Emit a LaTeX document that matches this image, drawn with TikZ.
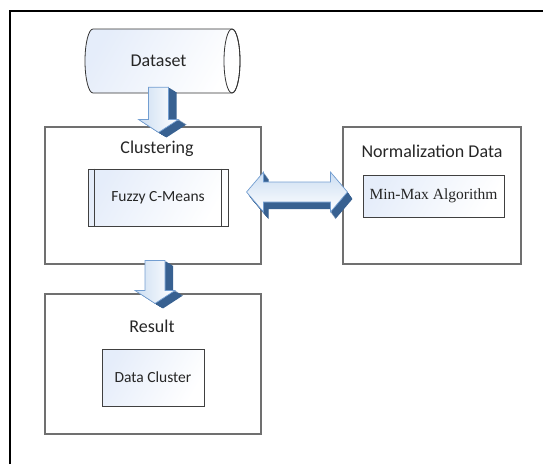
\documentclass[tikz,border=0pt]{standalone}
\usepackage{fontspec}
\setmainfont{Carlito}
\newfontfamily\algofont{Liberation Serif}
\usepackage{xcolor}
\usetikzlibrary{calc}
\usetikzlibrary{positioning}
\definecolor{framegray}{rgb}{0.44, 0.44, 0.44}
\definecolor{boxtint}{rgb}{0.90, 0.93, 0.98}
\definecolor{arrowedge}{rgb}{0.45, 0.62, 0.82}
\definecolor{arrowface}{rgb}{0.80, 0.87, 0.95}
\definecolor{arrowdark}{rgb}{0.22, 0.38, 0.57}
\definecolor{textgray}{rgb}{0.15, 0.15, 0.15}

% 3D block arrow pointing down: #1 = top of shaft, #2 = tip
\newcommand{\blockdown}[2]{%
	\foreach \k in {1,0.9,...,0.1}{%
		\fill[arrowdark] let \p1=#1, \p2=#2, \p3=(8*\k,5*\k) in
			(\x1+\x3-10pt,\y1+\y3) -- (\x1+\x3+10pt,\y1+\y3) -- (\x1+\x3+10pt,\y2+\y3+13pt)
			-- (\x1+\x3+20pt,\y2+\y3+13pt) -- (\x1+\x3,\y2+\y3) -- (\x1+\x3-20pt,\y2+\y3+13pt)
			-- (\x1+\x3-10pt,\y2+\y3+13pt) -- cycle;
	}%
	\path[arrowblock, left color=arrowface, right color=white] let \p1=#1, \p2=#2 in
		(\x1-10pt,\y1) -- (\x1+10pt,\y1) -- (\x1+10pt,\y2+13pt) -- (\x1+20pt,\y2+13pt)
		-- (\x1,\y2) -- (\x1-20pt,\y2+13pt) -- (\x1-10pt,\y2+13pt) -- cycle;
}

% 3D block arrow with two heads: #1 = left tip, #2 = right tip
\newcommand{\blockboth}[2]{%
	\foreach \k in {1,0.9,...,0.1}{%
		\fill[arrowdark] let \p1=#1, \p2=#2, \p3=(5*\k,7*\k) in
			(\x1+\x3,\y1+\y3) -- (\x1+\x3+17pt,\y1+\y3+20pt) -- (\x1+\x3+17pt,\y1+\y3+10pt)
			-- (\x2+\x3-17pt,\y1+\y3+10pt) -- (\x2+\x3-17pt,\y1+\y3+20pt) -- (\x2+\x3,\y1+\y3)
			-- (\x2+\x3-17pt,\y1+\y3-20pt) -- (\x2+\x3-17pt,\y1+\y3-10pt)
			-- (\x1+\x3+17pt,\y1+\y3-10pt) -- (\x1+\x3+17pt,\y1+\y3-20pt) -- cycle;
	}%
	\path[arrowblock, top color=arrowface, bottom color=white] let \p1=#1, \p2=#2 in
		(\x1,\y1) -- (\x1+17pt,\y1+20pt) -- (\x1+17pt,\y1+10pt)
		-- (\x2-17pt,\y1+10pt) -- (\x2-17pt,\y1+20pt) -- (\x2,\y1)
		-- (\x2-17pt,\y1-20pt) -- (\x2-17pt,\y1-10pt)
		-- (\x1+17pt,\y1-10pt) -- (\x1+17pt,\y1-20pt) -- cycle;
}

\begin{document}
\begin{tikzpicture}[x=1pt, y=-1pt]
	\useasboundingbox (0,0) rectangle (543,464);
	% ------------------------------------------------------------------
	% STYLE DEFINITIONS
	% ------------------------------------------------------------------
	\tikzset{
		stagebox/.style   = {draw=framegray, line width=1.1pt, minimum width=216pt, minimum height=137pt, inner sep=0pt},
		taskbox/.style    = {draw=black!75, line width=0.8pt, left color=boxtint, right color=white, shading angle=60, inner sep=0pt, text=textgray},
		stagetitle/.style = {font=\fontsize{18}{21}\selectfont, text=textgray},
		tasktext/.style   = {font=\fontsize{15.5}{18}\selectfont},
		arrowblock/.style = {draw=arrowedge, line width=0.7pt},
	}
	
	% ------------------------------------------------------------------
	% FRAME
	% ------------------------------------------------------------------
	\draw[line width=1.4pt] (10,464) -- (10,11) -- (543,11);
	
	% ------------------------------------------------------------------
	% DATASET (cylinder)
	% ------------------------------------------------------------------
	\path[draw=black!80, line width=0.8pt, left color=boxtint, right color=white, shading angle=60]
		(93,29) -- (232,29) arc[start angle=90, end angle=-90, x radius=8pt, y radius=32pt]
		-- (93,93) arc[start angle=270, end angle=90, x radius=8pt, y radius=32pt] -- cycle;
	\draw[black!80, line width=0.8pt] (232,61) ellipse [x radius=8pt, y radius=32pt];
	\node[stagetitle, minimum width=147pt, minimum height=64pt, inner sep=0pt] (dataset) at (158.5,61) {Dataset};
	
	% ------------------------------------------------------------------
	% STAGES
	% ------------------------------------------------------------------
	% 1.  clustering
	\node[stagebox] (clust) at (153,195.5) {};
	\node[stagetitle] (clustTitle) at (157,149) {Clustering};
	\node[taskbox, tasktext, minimum width=140pt, minimum height=57pt] (fcm) at (158,197.5) {Fuzzy C-Means};
	\draw[black!75, line width=0.8pt] ([xshift=7pt]fcm.north west) -- ([xshift=7pt]fcm.south west);
	\draw[black!75, line width=0.8pt] ([xshift=-7pt]fcm.north east) -- ([xshift=-7pt]fcm.south east);
	
	% 2.  normalization
	\node[stagebox, minimum width=178pt] (norm) at (432,195.5) {};
	\node[stagetitle] (normTitle) at (432,151) {Normalization Data};
	\node[taskbox, minimum width=141pt, minimum height=42pt, font=\algofont\fontsize{15.5}{18}\selectfont] (minmax) at (433.5,196) {Min-Max Algorithm};
	
	% 3.  result
	\node[stagebox, minimum height=140pt] (result) at (153,364) {};
	\node[stagetitle] (resultTitle) at (152,326) {Result};
	\node[taskbox, tasktext, minimum width=102pt, minimum height=57pt] (cluster) at (153,377.5) {Data Cluster};
	
	% ------------------------------------------------------------------
	% BLOCK ARROWS
	% ------------------------------------------------------------------
	\blockdown{([yshift=6pt]dataset.south)}{([yshift=-6pt]clust.north)}
	\blockboth{([xshift=-15pt,yshift=3.5pt]clust.east)}{([xshift=5pt,yshift=3.5pt]norm.west)}
	\blockdown{([xshift=2pt,yshift=4pt]clust.south)}{([xshift=2pt,yshift=-10pt]result.north)}
	
\end{tikzpicture}
\end{document}
